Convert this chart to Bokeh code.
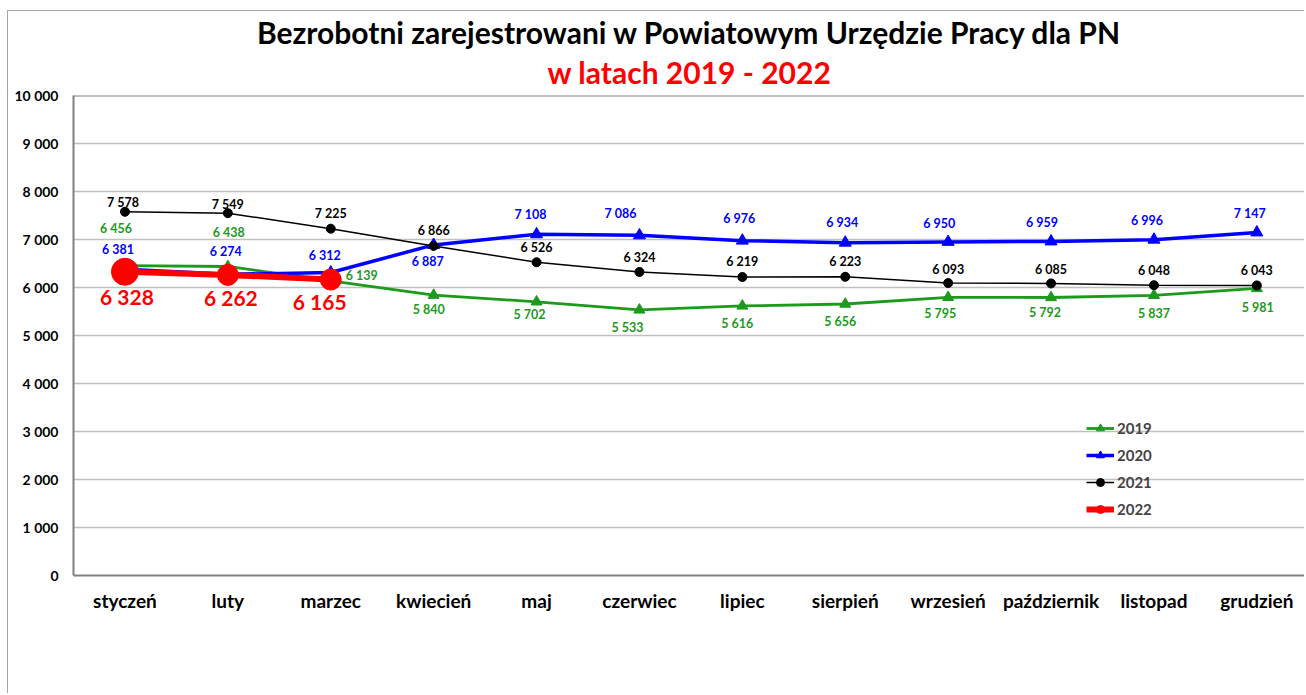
from bokeh.plotting import figure
from bokeh.models import (ColumnDataSource, Range1d, FixedTicker, Title, Legend, LegendItem, Span)
from bokeh.core.properties import value
from bokeh.embed import file_html
from bokeh.resources import INLINE

# ---------------- data ----------------
months = ["styczeń", "luty", "marzec", "kwiecień", "maj", "czerwiec", "lipiec",
          "sierpień", "wrzesień", "październik", "listopad", "grudzień"]
y2019 = [6456, 6438, 6139, 5840, 5702, 5533, 5616, 5656, 5795, 5792, 5837, 5981]
y2020 = [6381, 6274, 6312, 6887, 7108, 7086, 6976, 6934, 6950, 6959, 6996, 7147]
y2021 = [7578, 7549, 7225, 6866, 6526, 6324, 6219, 6223, 6093, 6085, 6048, 6043]
y2022 = [6328, 6262, 6165]
series_names = ["2019", "2020", "2021", "2022"]
y_ticks = [0, 1000, 2000, 3000, 4000, 5000, 6000, 7000, 8000, 9000, 10000]
title_line1 = "Bezrobotni zarejestrowani w Powiatowym Urzędzie Pracy dla PN"
title_line2 = "w latach 2019 - 2022"

# ---------------- styling ----------------
FONT = "Lato"
GREEN = "#1c9a1c"
BLUE = "#0000ff"
BLACK = "#000000"
RED = "#ff0000"

# label offsets in screen pixels (dx, dy; dy positive = down)
off2019 = [(-9, -37), (1, -34), (31, -5), (-5, 14), (-7, 13), (-12, 18), (-5, 18),
           (-5, 17), (-8, 16), (-6, 15), (0, 18), (1, 19)]
off2020 = [(-7, -20), (-2, -23), (-6, -17), (-6, 17), (-6, -20), (-19, -22), (-3, -22),
           (-3, -20), (-9, -18), (-9, -19), (-7, -19), (-7, -19)]
off2021 = [(-2, -9), (0, -9), (0, -15), (0, -15), (0, -15), (0, -14), (0, -15),
           (0, -15), (0, -14), (0, -14), (0, -15), (0, -15)]
off2022 = [(2, 25), (3, 23), (-11, 22)]
red_marker_sizes = [27, 21, 21]


def fmt(v):
    return f"{v:,}".replace(",", " ")


step_px = 102.9
W, H = 1297, 683
B_LEFT, B_TOP, B_BOTTOM = 65, 84, 119
frame_w = W - B_LEFT
p = figure(width=W, height=H, output_backend="svg", toolbar_location=None,
           x_range=Range1d(-0.5, -0.5 + frame_w / step_px), y_range=Range1d(0, 10000),
           min_border_left=B_LEFT, min_border_right=0, min_border_top=B_TOP,
           min_border_bottom=B_BOTTOM)
# chart-area border (top/left) placed like the original chart frame
p.styles = {"margin-left": "7px", "margin-top": "10px",
            "border-left": "1px solid #a6a6a6", "border-top": "1px solid #a6a6a6"}

p.title.text = title_line1
p.title.align = "center"
p.title.offset = -5
p.title.text_font = FONT
p.title.text_font_size = "30px"
p.title.text_font_style = "bold"
p.title.text_color = "#000000"
p.title.text_line_height = 1.0
p.title.standoff = -7
sub = Title(text=title_line2, align="center", offset=-5, text_font=FONT,
            text_font_size="30px", text_font_style="bold", text_color=RED,
            text_line_height=1.0, standoff=11)
p.add_layout(sub, "above")

p.outline_line_color = None
p.xgrid.visible = False
p.ygrid.grid_line_color = "#c0c0c0"
p.ygrid.grid_line_width = 1.5
p.add_layout(Span(location=10000, dimension="width", line_color="#7f7f7f", line_width=2))

xs = list(range(len(months)))
p.xaxis.ticker = FixedTicker(ticks=xs)
p.xaxis.major_label_overrides = {i: m for i, m in enumerate(months)}
p.yaxis.ticker = FixedTicker(ticks=y_ticks)
p.yaxis.major_label_overrides = {t: fmt(t) for t in y_ticks}
for ax in (p.xaxis[0], p.yaxis[0]):
    ax.axis_line_color = "#808080"
    ax.axis_line_width = 2
    ax.major_tick_out = 0
    ax.major_tick_in = 0
    ax.minor_tick_out = 0
    ax.minor_tick_in = 0
    ax.major_label_text_font = FONT
    ax.major_label_text_font_style = "bold"
    ax.major_label_text_color = "#000000"
p.xaxis.major_label_text_font_size = "19px"
p.xaxis.major_label_standoff = 13
p.yaxis.major_label_text_font_size = "14px"
p.yaxis.major_label_standoff = 15

# ---------------- series ----------------
l19 = p.line(xs, y2019, line_color=GREEN, line_width=2.8)
m19 = p.scatter(xs, y2019, marker="triangle", size=11, color=GREEN)
l20 = p.line(xs, y2020, line_color=BLUE, line_width=3.5)
m20 = p.scatter(xs, y2020, marker="triangle", size=12, color=BLUE)
l21 = p.line(xs, y2021, line_color=BLACK, line_width=1.5)
m21 = p.scatter(xs, y2021, marker="circle", size=9, color=BLACK)
x22 = xs[:len(y2022)]
l22 = p.line(x22, y2022, line_color=RED, line_width=6)
leg22 = p.scatter(x22[:1], y2022[:1], size=11, marker="circle", color=RED)
src22 = ColumnDataSource(dict(x=x22, y=y2022, s=red_marker_sizes))
m22 = p.scatter("x", "y", size="s", marker="circle", color=RED, source=src22)


def add_labels(x, y, offs, color, size):
    src = ColumnDataSource(dict(x=x, y=y, t=[fmt(v) for v in y],
                                dx=[o[0] for o in offs], dy=[o[1] for o in offs]))
    p.text("x", "y", text="t", x_offset="dx", y_offset="dy", source=src,
           text_align="center", text_baseline="middle", text_color=color,
           text_font=value(FONT), text_font_style="bold", text_font_size=size)


add_labels(xs, y2021, off2021, BLACK, "12.5px")
add_labels(xs, y2019, off2019, GREEN, "12.5px")
add_labels(xs, y2020, off2020, BLUE, "12.5px")
add_labels(x22, y2022, off2022, RED, "21px")

legend = Legend(items=[
    LegendItem(label=series_names[0], renderers=[l19, m19]),
    LegendItem(label=series_names[1], renderers=[l20, m20]),
    LegendItem(label=series_names[2], renderers=[l21, m21]),
    LegendItem(label=series_names[3], renderers=[l22, leg22]),
], location=(1013, 56))
legend.background_fill_alpha = 0
legend.border_line_alpha = 0
legend.padding = 0
legend.margin = 0
legend.spacing = 7
legend.glyph_width = 28
legend.glyph_height = 20
legend.label_height = 20
legend.label_standoff = 3
legend.label_text_font = FONT
legend.label_text_font_style = "bold"
legend.label_text_font_size = "15px"
p.add_layout(legend)

open("out.html", "w").write(file_html(p, INLINE))
